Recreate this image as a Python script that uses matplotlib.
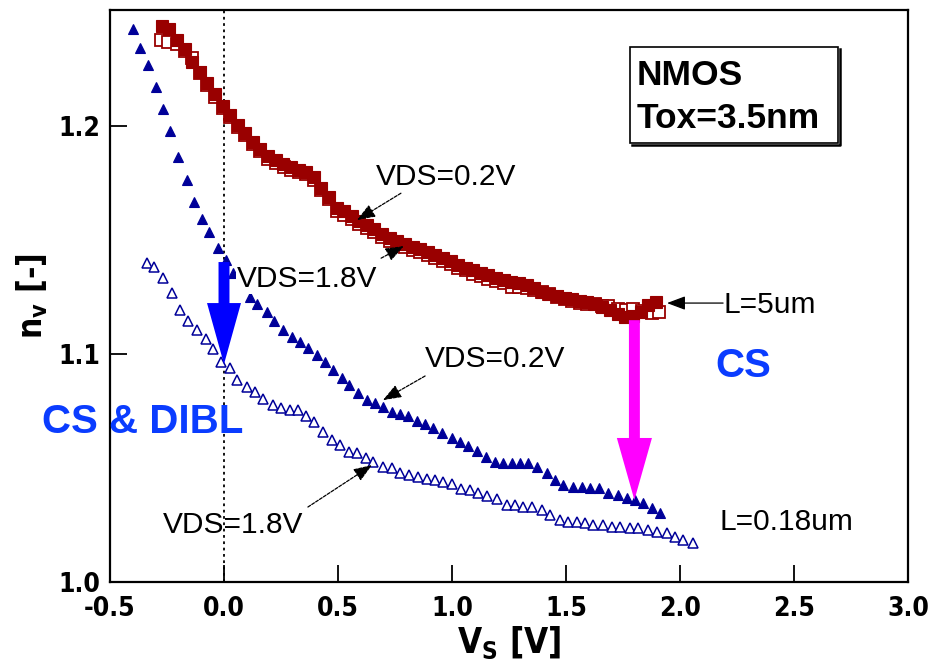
import matplotlib
matplotlib.use("Agg")
import matplotlib.pyplot as plt
from matplotlib import font_manager
from matplotlib.font_manager import FontProperties
from matplotlib.patches import FancyArrow, Rectangle
from matplotlib.lines import Line2D

# ---------------- data ----------------
# L = 5um, VDS = 0.2V (filled squares)
x_l5_02 = [-0.273, -0.240, -0.206, -0.173, -0.140, -0.106, -0.073, -0.040, -0.006, 0.027,
           0.060, 0.094, 0.127, 0.160, 0.194, 0.227, 0.260, 0.294, 0.327, 0.360,
           0.394, 0.427, 0.460, 0.494, 0.527, 0.560, 0.594, 0.627, 0.660, 0.694,
           0.727, 0.760, 0.794, 0.827, 0.860, 0.894, 0.927, 0.960, 0.994, 1.027,
           1.060, 1.094, 1.127, 1.160, 1.194, 1.227, 1.260, 1.294, 1.327, 1.360,
           1.394, 1.427, 1.460, 1.494, 1.527, 1.560, 1.594, 1.627, 1.660, 1.694,
           1.727, 1.760, 1.794, 1.827, 1.860, 1.893]
y_l5_02 = [1.2440, 1.2425, 1.2380, 1.2340, 1.2280, 1.2240, 1.2190, 1.2140, 1.2090, 1.2050,
           1.2004, 1.1970, 1.1930, 1.1900, 1.1870, 1.1850, 1.1835, 1.1820, 1.1810, 1.1800,
           1.1775, 1.1730, 1.1690, 1.1640, 1.1626, 1.1606, 1.1582, 1.1566, 1.1550, 1.1527,
           1.1510, 1.1498, 1.1484, 1.1472, 1.1462, 1.1447, 1.1434, 1.1421, 1.1408, 1.1393,
           1.1380, 1.1367, 1.1355, 1.1345, 1.1334, 1.1327, 1.1318, 1.1311, 1.1304, 1.1290,
           1.1272, 1.1262, 1.1256, 1.1248, 1.1240, 1.1232, 1.1228, 1.1222, 1.1206, 1.1193,
           1.1178, 1.1162, 1.1168, 1.1185, 1.1215, 1.1228]

# L = 5um, VDS = 1.8V (open squares)
x_l5_18 = [-0.278, -0.244, -0.207, -0.173, -0.142, -0.106, -0.073, -0.040, -0.006, 0.027,
           0.060, 0.094, 0.127, 0.160, 0.194, 0.227, 0.262, 0.294, 0.327, 0.360,
           0.394, 0.427, 0.460, 0.494, 0.527, 0.560, 0.594, 0.627, 0.660, 0.694,
           0.727, 0.760, 0.794, 0.827, 0.860, 0.894, 0.927, 0.960, 0.994, 1.027,
           1.060, 1.094, 1.127, 1.160, 1.194, 1.227, 1.263, 1.294, 1.327, 1.360,
           1.394, 1.427, 1.460, 1.494, 1.527, 1.560, 1.594, 1.627, 1.660, 1.684,
           1.728, 1.763, 1.794, 1.835, 1.877, 1.908]
y_l5_18 = [1.2380, 1.2370, 1.2360, 1.2330, 1.2300, 1.2235, 1.2180, 1.2128, 1.2078, 1.2040,
           1.1995, 1.1962, 1.1922, 1.1890, 1.1858, 1.1838, 1.1822, 1.1810, 1.1800, 1.1790,
           1.1765, 1.1722, 1.1680, 1.1630, 1.1612, 1.1594, 1.1570, 1.1553, 1.1538, 1.1515,
           1.1498, 1.1485, 1.1470, 1.1458, 1.1448, 1.1433, 1.1420, 1.1407, 1.1394, 1.1380,
           1.1367, 1.1353, 1.1342, 1.1331, 1.1320, 1.1312, 1.1293, 1.1296, 1.1290, 1.1280,
           1.1272, 1.1262, 1.1250, 1.1240, 1.1232, 1.1225, 1.1222, 1.1218, 1.1212, 1.1212,
           1.1200, 1.1192, 1.1196, 1.1188, 1.1180, 1.1184]

# L = 0.18um, VDS = 0.2V (filled triangles)
x_s_02 = [-0.398, -0.368, -0.332, -0.298, -0.266, -0.237, -0.200, -0.164, -0.130, -0.095,
          -0.064, -0.025, 0.009, 0.038, 0.077, 0.114, 0.143, 0.187, 0.219, 0.259,
          0.297, 0.333, 0.368, 0.407, 0.443, 0.478, 0.516, 0.548, 0.588, 0.626,
          0.662, 0.697, 0.736, 0.772, 0.807, 0.845, 0.882, 0.917, 0.956, 0.999,
          1.035, 1.070, 1.108, 1.149, 1.189, 1.224, 1.262, 1.298, 1.333, 1.371,
          1.415, 1.452, 1.487, 1.529, 1.569, 1.605, 1.645, 1.684, 1.728, 1.766,
          1.803, 1.838, 1.876, 1.912]
y_s_02 = [1.2425, 1.2343, 1.2268, 1.2172, 1.2075, 1.1978, 1.1865, 1.1763, 1.1668, 1.1592,
          1.1536, 1.1466, 1.1412, 1.1354, 1.1303, 1.1251, 1.1219, 1.1184, 1.1145, 1.1105,
          1.1076, 1.1053, 1.1026, 1.0996, 1.0966, 1.0930, 1.0895, 1.0864, 1.0829, 1.0798,
          1.0785, 1.0769, 1.0747, 1.0739, 1.0728, 1.0706, 1.0693, 1.0675, 1.0654, 1.0634,
          1.0615, 1.0596, 1.0575, 1.0548, 1.0528, 1.0522, 1.0522, 1.0522, 1.0522, 1.0506,
          1.0478, 1.0447, 1.0425, 1.0417, 1.0417, 1.0412, 1.0412, 1.0390, 1.0382, 1.0368,
          1.0360, 1.0346, 1.0325, 1.0303]

# L = 0.18um, VDS = 1.8V (open triangles)
x_s_18 = [-0.339, -0.307, -0.266, -0.229, -0.193, -0.157, -0.120, -0.079, -0.047, -0.015,
          0.026, 0.056, 0.100, 0.136, 0.172, 0.215, 0.251, 0.288, 0.324, 0.360,
          0.393, 0.433, 0.472, 0.509, 0.550, 0.582, 0.623, 0.655, 0.699, 0.736,
          0.772, 0.811, 0.852, 0.889, 0.925, 0.961, 1.001, 1.040, 1.079, 1.115,
          1.152, 1.196, 1.240, 1.276, 1.313, 1.350, 1.393, 1.430, 1.474, 1.510,
          1.547, 1.583, 1.620, 1.664, 1.700, 1.737, 1.781, 1.817, 1.861, 1.898,
          1.942, 1.978, 2.015, 2.056]
y_s_18 = [1.1398, 1.1383, 1.1332, 1.1268, 1.1195, 1.1147, 1.1107, 1.1066, 1.1021, 1.0966,
          1.0939, 1.0888, 1.0857, 1.0832, 1.0803, 1.0776, 1.0762, 1.0755, 1.0755, 1.0728,
          1.0700, 1.0659, 1.0623, 1.0601, 1.0571, 1.0564, 1.0543, 1.0528, 1.0506, 1.0499,
          1.0480, 1.0469, 1.0462, 1.0452, 1.0449, 1.0440, 1.0430, 1.0410, 1.0404, 1.0389,
          1.0378, 1.0364, 1.0338, 1.0338, 1.0330, 1.0330, 1.0316, 1.0294, 1.0272, 1.0264,
          1.0264, 1.0257, 1.0250, 1.0250, 1.0243, 1.0243, 1.0236, 1.0236, 1.0228, 1.0221,
          1.0214, 1.0199, 1.0184, 1.0170]

x_ticks = [-0.5, 0.0, 0.5, 1.0, 1.5, 2.0, 2.5, 3.0]
x_tick_labels = ["-0.5", "0.0", "0.5", "1.0", "1.5", "2.0", "2.5", "3.0"]
y_ticks = [1.0, 1.1, 1.2]
y_tick_labels = ["1.0", "1.1", "1.2"]

# ---------------- fonts ----------------
names = {f.name for f in font_manager.fontManager.ttflist}
SANS = "Liberation Sans" if "Liberation Sans" in names else "DejaVu Sans"

# look for a condensed / narrow bold face
cond = None
prefs = ["liberation", "arial", "dejavu", "noto", "roboto", "open", ""]
cands = [f for f in font_manager.fontManager.ttflist
         if ("narrow" in f.fname.lower() or "condensed" in f.fname.lower()
             or "narrow" in f.name.lower() or "condensed" in f.name.lower())]
for p in prefs:
    for f in cands:
        if p in f.fname.lower() and (f.weight in ("bold", 700) or "bold" in f.fname.lower()):
            cond = f
            break
    if cond:
        break

if cond is not None:
    NARROW_PROPS = dict(fname=cond.fname)
    MT = f"{cond.name}:weight=bold:stretch={cond.stretch}"
else:
    NARROW_PROPS = dict(family=SANS, weight="bold")
    MT = f"{SANS}:bold"

def nprop(size):
    fp = FontProperties(**NARROW_PROPS)
    fp.set_size(size)
    return fp

plt.rcParams["font.family"] = [SANS, "DejaVu Sans"]
plt.rcParams["mathtext.fontset"] = "custom"
plt.rcParams["mathtext.rm"] = MT
plt.rcParams["mathtext.it"] = MT
plt.rcParams["mathtext.bf"] = MT
plt.rcParams["mathtext.default"] = "rm"

RED = "#990000"
NAVY = "#000099"
BLUE_TXT = "#0a3cff"

W, H = 941, 665
fig = plt.figure(figsize=(W / 100, H / 100), dpi=100)
ax = fig.add_axes([110 / W, 1 - 582 / H, (908 - 110) / W, (582 - 10) / H])

ax.set_xlim(-0.5, 3.0)
ax.set_ylim(1.0, 1.251)

# dotted line at Vs = 0
ax.axvline(0.0, color="black", linestyle=(0, (1.5, 2.0)), lw=1.3, zorder=1)

# series
ax.plot(x_l5_18, y_l5_18, ls="none", marker="s", ms=8.5, mfc="white", mec=RED, mew=1.3, zorder=3)
ax.plot(x_l5_02, y_l5_02, ls="none", marker="s", ms=8.5, mfc=RED, mec=RED, mew=0.8, zorder=4)
ax.plot(x_s_02, y_s_02, ls="none", marker="^", ms=7, mfc=NAVY, mec=NAVY, mew=0.8, zorder=3)
ax.plot(x_s_18, y_s_18, ls="none", marker="^", ms=7, mfc="white", mec=NAVY, mew=1.1, zorder=3)

# ticks / spines
ax.set_xticks(x_ticks)
ax.set_xticklabels(x_tick_labels)
ax.set_yticks(y_ticks)
ax.set_yticklabels(y_tick_labels)
ax.tick_params(direction="in", length=12, width=1.3, top=False, right=False)
ax.tick_params(axis="x", pad=10)
ax.tick_params(axis="y", pad=7)
for lab in ax.get_xticklabels() + ax.get_yticklabels():
    lab.set_fontproperties(nprop(19))
for sp in ax.spines.values():
    sp.set_linewidth(1.6)

ax.set_xlabel(r"$V_S$ [V]", fontproperties=nprop(25), labelpad=2)
ax.set_ylabel(r"$n_v$ [-]", fontproperties=nprop(24), labelpad=6)

# big arrows
ax.add_patch(FancyArrow(0.0, 1.1404, 0.0, -0.0448, width=0.048, head_width=0.149,
                        head_length=0.0268, length_includes_head=True,
                        color="#0000ff", lw=0, zorder=6))
ax.add_patch(FancyArrow(1.80, 1.1149, 0.0, -0.0789, width=0.048, head_width=0.154,
                        head_length=0.0272, length_includes_head=True,
                        color="#ff00ff", lw=0, zorder=6))

# small annotation arrows
def small_arrow(tail, head, dashed=True):
    ax.annotate("", xy=head, xytext=tail,
                arrowprops=dict(arrowstyle="-|>,head_length=0.8,head_width=0.3",
                                color="black", lw=0.9,
                                linestyle=(0, (2.5, 1.2)) if dashed else "-",
                                shrinkA=0, shrinkB=0, mutation_scale=14),
                zorder=7)

small_arrow((0.776, 1.1706), (0.583, 1.1588))
small_arrow((0.689, 1.1421), (0.789, 1.1474))
small_arrow((0.882, 1.0904), (0.697, 1.0798))
small_arrow((0.368, 1.0329), (0.649, 1.0513))
small_arrow((2.189, 1.1224), (1.943, 1.1224), dashed=False)

# labels
lab_kw = dict(fontsize=21.5, color="black", ha="left", va="baseline", zorder=8)
ax.text(0.665, 1.1741, "VDS=0.2V", **lab_kw)
ax.text(0.057, 1.1294, "VDS=1.8V",
        bbox=dict(facecolor="white", edgecolor="none", pad=0.5), **lab_kw)
ax.text(0.882, 1.0943, "VDS=0.2V", **lab_kw)
ax.text(-0.268, 1.0215, "VDS=1.8V", **lab_kw)
ax.text(2.189, 1.1180, "L=5um", **lab_kw)
ax.text(2.175, 1.0228, "L=0.18um", **lab_kw)

ax.text(2.154, 1.0899, "CS", fontsize=29, fontweight="bold", color=BLUE_TXT,
        ha="left", va="baseline", zorder=8)
ax.text(-0.798, 1.0654, "CS & DIBL", fontsize=29, fontweight="bold", color=BLUE_TXT,
        ha="left", va="baseline", zorder=8, clip_on=False)

# NMOS box (figure pixel coordinates)
def fx(px):
    return px / W

def fy(py):
    return 1 - py / H

fig.patches.append(Rectangle((fx(630), fy(143)), fx(838) - fx(630), fy(47) - fy(143),
                             transform=fig.transFigure, facecolor="white",
                             edgecolor="black", lw=1.2, zorder=9))
fig.lines.append(Line2D([fx(632), fx(840), fx(840)], [fy(145), fy(145), fy(49)],
                        transform=fig.transFigure, color="black", lw=1.8, zorder=9))
fig.text(fx(637), fy(85), "NMOS", fontsize=25.5, fontweight="bold", ha="left",
         va="baseline", zorder=10)
fig.text(fx(637), fy(128), "Tox=3.5nm", fontsize=25.5, fontweight="bold", ha="left",
         va="baseline", zorder=10)

fig.savefig("out.png", dpi=100)
